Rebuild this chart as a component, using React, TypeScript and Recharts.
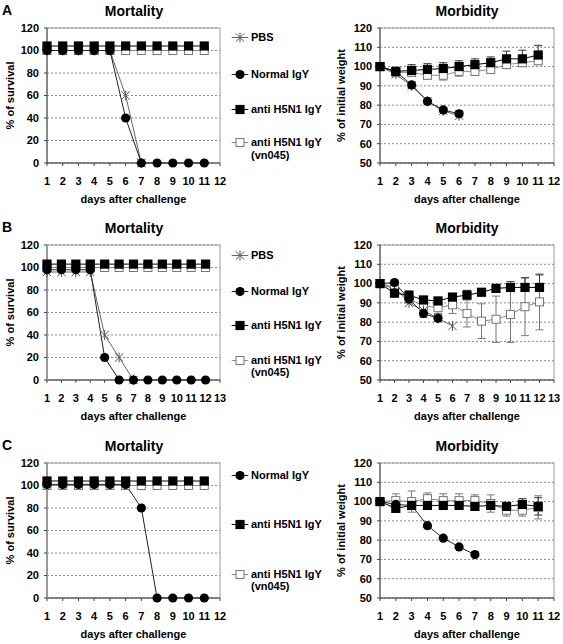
import React from 'react';
import {
  LineChart,
  Line,
  XAxis,
  YAxis,
  CartesianGrid,
  ErrorBar,
  ReferenceArea,
  Legend,
} from 'recharts';

const FONT = '"Liberation Sans", Arial, Helvetica, sans-serif';

// ---------- shared axis data ----------
const days11 = [1, 2, 3, 4, 5, 6, 7, 8, 9, 10, 11];
const days12 = [1, 2, 3, 4, 5, 6, 7, 8, 9, 10, 11, 12];
const xTicks12 = [1, 2, 3, 4, 5, 6, 7, 8, 9, 10, 11, 12];
const xTicks13 = [1, 2, 3, 4, 5, 6, 7, 8, 9, 10, 11, 12, 13];
const survivalTicks = [0, 20, 40, 60, 80, 100, 120];
const weightTicks = [50, 60, 70, 80, 90, 100, 110, 120];

const nameLabels = ['PBS', 'Normal IgY', 'anti H5N1 IgY', 'anti H5N1 IgY (vn045)'];

// ---------- Panel A ----------
const mortA_PBS = [100, 100, 100, 100, 100, 60, 0];
const mortA_Normal = [100, 100, 100, 100, 100, 40, 0, 0, 0, 0, 0];
const mortA_Anti = [104, 104, 104, 104, 104, 104, 104, 104, 104, 104, 104];
const mortA_Vn = [100, 100, 100, 100, 100, 100, 100, 100, 100, 100, 100];

const morbA_PBS = [100, 96, 90, 82, 77, 74.5];
const morbA_Normal = [100, 97.5, 90.5, 82, 77.5, 75.5];
const morbA_NormalErr = [0, 1, 1.5, 1, 1, 1.5];
const morbA_Anti = [100, 97.5, 98, 98.5, 99, 100, 101, 102, 104, 104, 106];
const morbA_AntiErr = [0, 1.5, 3, 3, 3, 3, 3, 3, 4, 4.5, 5];
const morbA_Vn = [100, 97, 97, 95.5, 95.5, 97.5, 97.5, 98.5, 101, 102, 103];
const morbA_VnErr = [0, 2, 2, 2, 2.5, 2.5, 2, 2, 2, 2, 2];

// ---------- Panel B ----------
const mortB_PBS = [96, 96, 96, 96, 40, 20, 0];
const mortB_Normal = [98, 98, 98, 98, 20, 0, 0, 0, 0, 0, 0, 0];
const mortB_Anti = [103, 103, 103, 103, 103, 103, 103, 103, 103, 103, 103, 103];
const mortB_Vn = [100, 100, 100, 100, 100, 100, 100, 100, 100, 100, 100, 100];

const morbB_PBS = [100, 98, 90, 86, 82, 78];
const morbB_Normal = [100, 100.5, 92, 84.5, 82];
const morbB_NormalErr = [0, 1, 1.5, 2, 1.5];
const morbB_Anti = [100, 95, 94, 91.5, 91, 93, 94, 95.5, 97.5, 98, 98, 98];
const morbB_AntiErr = [0, 2, 2, 1.5, 1.5, 1.5, 2.5, 1.5, 2, 3, 5, 6.5];
const morbB_Vn = [100, 97, 92, 88.5, 87.5, 89, 84.5, 80.5, 81.5, 84, 88, 90.5];
const morbB_VnErr = [0, 2, 2, 2.5, 3, 4.5, 7, 9, 12, 14.5, 15, 14.5];

// ---------- Panel C ----------
const mortC_Normal = [101, 101, 101, 101, 101, 101, 80, 0, 0, 0, 0];
const mortC_Anti = [104, 104, 104, 104, 104, 104, 104, 104, 104, 104, 104];
const mortC_Vn = [100, 100, 100, 100, 100, 100, 100, 100, 100, 100, 100];

const morbC_Normal = [100, 98.5, 98, 87.5, 81, 76.5, 72.5];
const morbC_Anti = [100, 96.5, 98, 98, 98, 98, 97.5, 98, 97.5, 98.5, 97.5];
const morbC_AntiErr = [0, 2, 2, 1.5, 1.5, 1.5, 1.5, 2, 2, 3, 4.5];
const morbC_Vn = [100, 100.5, 100, 101.5, 100.5, 100.5, 100.5, 99, 95.5, 95.5, 97];
const morbC_VnErr = [0, 3.5, 5.5, 3, 3.5, 3.5, 3, 4.5, 3, 3, 6];

// ---------- helpers ----------
type Kind = 'pbs' | 'normal' | 'anti' | 'vn';
type Mode = 'up' | 'down' | 'both';
interface Series {
  kind: Kind;
  values: number[];
  err?: number[];
  mode?: Mode;
}

function buildRows(days: number[], series: Series[]) {
  return days.map((d, i) => {
    const row: any = { day: d };
    series.forEach((s) => {
      const v = s.values[i];
      row[s.kind] = v === undefined ? null : v;
      if (s.err && s.err[i] !== undefined) {
        const e = s.err[i];
        row[s.kind + 'E'] = s.mode === 'up' ? [0, e] : s.mode === 'down' ? [e, 0] : [e, e];
      }
    });
    return row;
  });
}

function drawMarker(kind: Kind, cx: number, cy: number, key?: string) {
  if (kind === 'normal') return <circle key={key} cx={cx} cy={cy} r={4.6} fill="#000" />;
  if (kind === 'anti')
    return <rect key={key} x={cx - 4.6} y={cy - 4.6} width={9.2} height={9.2} fill="#000" />;
  if (kind === 'vn')
    return (
      <rect key={key} x={cx - 4} y={cy - 4} width={8} height={8} fill="#fff" stroke="#777" strokeWidth={1} />
    );
  const r = 4.2;
  return (
    <g key={key} stroke="#555" strokeWidth={1}>
      <line x1={cx - r} y1={cy - r} x2={cx + r} y2={cy + r} />
      <line x1={cx - r} y1={cy + r} x2={cx + r} y2={cy - r} />
      <line x1={cx} y1={cy - r - 0.8} x2={cx} y2={cy + r + 0.8} />
    </g>
  );
}

const makeDot = (kind: Kind) => (p: any) => {
  const key = `${kind}-dot-${p.index}`;
  if (p.cx == null || p.cy == null || p.value == null || isNaN(p.cy)) return <g key={key} />;
  return drawMarker(kind, p.cx, p.cy, key);
};

const LINE_COLOR: Record<Kind, string> = {
  pbs: '#666',
  normal: '#222',
  anti: '#000',
  vn: '#8a8a8a',
};
const ERR_COLOR: Record<Kind, string> = {
  pbs: '#666',
  normal: '#444',
  anti: '#333',
  vn: '#777',
};
const DRAW_ORDER: Kind[] = ['vn', 'pbs', 'normal', 'anti'];
const KIND_NAME: Record<Kind, string> = {
  pbs: nameLabels[0],
  normal: nameLabels[1],
  anti: nameLabels[2],
  vn: nameLabels[3],
};

const tickStyle = { fill: '#000', fontSize: 11, fontWeight: 'bold', fontFamily: FONT };

function LegendBox({ kinds, ys }: { kinds: Kind[]; ys: number[] }) {
  return (
    <div style={{ position: 'relative', width: 100, height: 210, fontFamily: FONT, fontWeight: 'bold', fontSize: 11 }}>
      {kinds.map((k, i) => (
        <div
          key={k}
          style={{ position: 'absolute', left: 0, top: ys[i] - 6.5, display: 'flex', alignItems: 'flex-start' }}
        >
          <svg width={21} height={13} style={{ flex: 'none' }}>
            <line x1={1.7} x2={18.3} y1={6.5} y2={6.5} stroke={LINE_COLOR[k]} strokeWidth={1} />
            {drawMarker(k, 10, 6.5)}
          </svg>
          <div style={{ width: 78, lineHeight: '12.5px', color: '#000' }}>{KIND_NAME[k]}</div>
        </div>
      ))}
    </div>
  );
}

function FrameAndGrid({ xMax, yMin, yMax }: { xMax: number; yMin: number; yMax: number }) {
  return null;
}

interface ChartProps {
  top: number;
  rows: any[];
  kinds: Kind[];
  xTicks: number[];
  withErr?: boolean;
}

function MortalityChart({ top, rows, kinds, xTicks, legendYs, thickY }: ChartProps & { legendYs: number[]; thickY?: boolean }) {
  const xMax = xTicks[xTicks.length - 1];
  return (
    <div style={{ position: 'absolute', left: 0, top }}>
      <LineChart
        width={330}
        height={210}
        data={rows}
        margin={{ top: 28, right: 110, bottom: 0, left: 0 }}
        style={{ fontFamily: FONT }}
      >
        <CartesianGrid vertical={false} stroke="#8c8c8c" strokeDasharray="2 2" />
        <ReferenceArea x1={1} x2={xMax} y1={0} y2={120} fill="none" stroke="#9a9a9a" strokeWidth={1} />
        <XAxis
          dataKey="day"
          type="number"
          domain={[1, xMax]}
          ticks={xTicks}
          interval={0}
          height={47}
          tickSize={3}
          tickMargin={11}
          tick={tickStyle}
          stroke="#444"
          label={{
            value: 'days after challenge',
            position: 'insideBottom',
            offset: 7,
            style: { fontSize: 11, fontWeight: 'bold', fill: '#000', fontFamily: FONT },
          }}
        />
        <YAxis
          type="number"
          domain={[0, 120]}
          ticks={survivalTicks}
          interval={0}
          width={47}
          tickSize={3}
          tickMargin={5}
          tick={tickStyle}
          axisLine={{ stroke: thickY ? '#9a9a9a' : '#444', strokeWidth: thickY ? 2 : 1 }}
          tickLine={{ stroke: '#444' }}
          label={{
            value: '% of survival',
            angle: -90,
            position: 'insideLeft',
            offset: 10,
            style: { fontSize: 11, fontWeight: 'bold', fill: '#000', fontFamily: FONT, textAnchor: 'middle' },
          }}
        />
        {DRAW_ORDER.filter((k) => kinds.includes(k)).map((k) => (
          <Line
            key={k}
            dataKey={k}
            name={KIND_NAME[k]}
            stroke={LINE_COLOR[k]}
            strokeWidth={1}
            dot={makeDot(k)}
            activeDot={false}
            isAnimationActive={false}
            connectNulls={false}
          />
        ))}
        <Legend
          layout="horizontal"
          verticalAlign="middle"
          align="center"
          wrapperStyle={{ left: 230, top: 0, width: 100, height: 210 }}
          content={() => <LegendBox kinds={kinds} ys={legendYs} />}
        />
      </LineChart>
    </div>
  );
}

function MorbidityChart({ top, rows, kinds, xTicks }: ChartProps) {
  const xMax = xTicks[xTicks.length - 1];
  return (
    <div style={{ position: 'absolute', left: 330, top }}>
      <LineChart
        width={233}
        height={210}
        data={rows}
        margin={{ top: 28, right: 9, bottom: 0, left: 0 }}
        style={{ fontFamily: FONT }}
      >
        <CartesianGrid vertical={false} stroke="#8c8c8c" strokeDasharray="2 2" />
        <ReferenceArea x1={1} x2={xMax} y1={50} y2={120} fill="none" stroke="#9a9a9a" strokeWidth={1} />
        <XAxis
          dataKey="day"
          type="number"
          domain={[1, xMax]}
          ticks={xTicks}
          interval={0}
          height={47}
          tickSize={3}
          tickMargin={11}
          tick={tickStyle}
          stroke="#444"
          label={{
            value: 'days after challenge',
            position: 'insideBottom',
            offset: 7,
            style: { fontSize: 11, fontWeight: 'bold', fill: '#000', fontFamily: FONT },
          }}
        />
        <YAxis
          type="number"
          domain={[50, 120]}
          ticks={weightTicks}
          interval={0}
          width={50}
          tickSize={3}
          tickMargin={5}
          tick={tickStyle}
          stroke="#444"
          label={{
            value: '% of initial weight',
            angle: -90,
            position: 'insideLeft',
            offset: 11,
            style: { fontSize: 11, fontWeight: 'bold', fill: '#000', fontFamily: FONT, textAnchor: 'middle' },
          }}
        />
        {DRAW_ORDER.filter((k) => kinds.includes(k)).map((k) => (
          <Line
            key={k}
            dataKey={k}
            name={KIND_NAME[k]}
            stroke={LINE_COLOR[k]}
            strokeWidth={1}
            dot={makeDot(k)}
            activeDot={false}
            isAnimationActive={false}
            connectNulls={false}
          >
            {rows.some((r) => r[k + 'E'] !== undefined) ? (
              <ErrorBar dataKey={k + 'E'} width={4} stroke={ERR_COLOR[k]} strokeWidth={1} direction="y" />
            ) : null}
          </Line>
        ))}
      </LineChart>
    </div>
  );
}

function Headings({ top, letter }: { top: number; letter: string }) {
  const common: React.CSSProperties = {
    position: 'absolute',
    fontFamily: FONT,
    fontWeight: 'bold',
    fontSize: 14,
    lineHeight: '16px',
    color: '#000',
    whiteSpace: 'nowrap',
  };
  return (
    <>
      <div style={{ ...common, left: 2, top: top + 1.5 }}>{letter}</div>
      <div style={{ ...common, left: 134 - 60, width: 120, textAlign: 'center', top: top + 2.5 }}>Mortality</div>
      <div style={{ ...common, left: 467 - 60, width: 120, textAlign: 'center', top: top + 2.5 }}>Morbidity</div>
    </>
  );
}

// ---------- tables ----------
const mortRowsA = buildRows(days11, [
  { kind: 'pbs', values: mortA_PBS },
  { kind: 'normal', values: mortA_Normal },
  { kind: 'anti', values: mortA_Anti },
  { kind: 'vn', values: mortA_Vn },
]);
const morbRowsA = buildRows(days11, [
  { kind: 'pbs', values: morbA_PBS },
  { kind: 'normal', values: morbA_Normal, err: morbA_NormalErr, mode: 'both' },
  { kind: 'anti', values: morbA_Anti, err: morbA_AntiErr, mode: 'up' },
  { kind: 'vn', values: morbA_Vn, err: morbA_VnErr, mode: 'down' },
]);
const mortRowsB = buildRows(days12, [
  { kind: 'pbs', values: mortB_PBS },
  { kind: 'normal', values: mortB_Normal },
  { kind: 'anti', values: mortB_Anti },
  { kind: 'vn', values: mortB_Vn },
]);
const morbRowsB = buildRows(days12, [
  { kind: 'pbs', values: morbB_PBS },
  { kind: 'normal', values: morbB_Normal, err: morbB_NormalErr, mode: 'both' },
  { kind: 'anti', values: morbB_Anti, err: morbB_AntiErr, mode: 'up' },
  { kind: 'vn', values: morbB_Vn, err: morbB_VnErr, mode: 'both' },
]);
const mortRowsC = buildRows(days11, [
  { kind: 'normal', values: mortC_Normal },
  { kind: 'anti', values: mortC_Anti },
  { kind: 'vn', values: mortC_Vn },
]);
const morbRowsC = buildRows(days11, [
  { kind: 'normal', values: morbC_Normal },
  { kind: 'anti', values: morbC_Anti, err: morbC_AntiErr, mode: 'both' },
  { kind: 'vn', values: morbC_Vn, err: morbC_VnErr, mode: 'both' },
]);

const ALL4: Kind[] = ['pbs', 'normal', 'anti', 'vn'];
const ALL3: Kind[] = ['normal', 'anti', 'vn'];

export default function App() {
  return (
    <div style={{ position: 'absolute', left: 0, top: 0, width: 563, height: 644, background: '#fff', overflow: 'hidden' }}>
      <Headings top={0} letter="A" />
      <MortalityChart top={0} rows={mortRowsA} kinds={ALL4} xTicks={xTicks12} legendYs={[37.7, 74.3, 109.3, 142.7]} />
      <MorbidityChart top={0} rows={morbRowsA} kinds={ALL4} xTicks={xTicks12} />

      <Headings top={217} letter="B" />
      <MortalityChart top={217} rows={mortRowsB} kinds={ALL4} xTicks={xTicks13} legendYs={[38, 74, 108, 143]} thickY />
      <MorbidityChart top={217} rows={morbRowsB} kinds={ALL4} xTicks={xTicks13} />

      <Headings top={435} letter="C" />
      <MortalityChart top={435} rows={mortRowsC} kinds={ALL3} xTicks={xTicks12} legendYs={[40, 89, 139]} thickY />
      <MorbidityChart top={435} rows={morbRowsC} kinds={ALL3} xTicks={xTicks12} />
    </div>
  );
}
